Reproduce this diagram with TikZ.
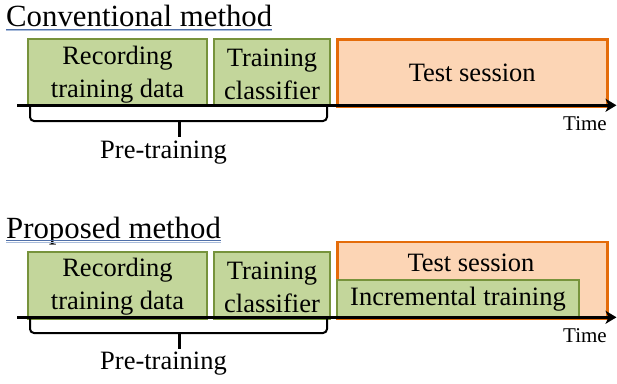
\documentclass[tikz,border=0pt]{standalone}
\usepackage{fontspec}
\setmainfont{Liberation Serif}
\usetikzlibrary{arrows.meta,calc}
\definecolor{gfill}{HTML}{C3D69B}
\definecolor{gdraw}{HTML}{77933C}
\definecolor{ofill}{HTML}{FCD5B5}
\definecolor{odraw}{HTML}{E46C0A}
\definecolor{ulblue}{HTML}{4F6FA8}
\definecolor{ulpale}{HTML}{A9BCDB}
\tikzset{
  gbox/.style={draw=gdraw, fill=gfill, line width=2pt, inner sep=0pt, anchor=north west, align=center,
    font=\fontsize{26.5}{33}\selectfont},
  obox/.style={draw=odraw, fill=ofill, line width=2.5pt, inner sep=0pt, anchor=north west, align=center,
    font=\fontsize{26.5}{33}\selectfont},
  inlbl/.style={inner sep=0pt, align=center, yshift=-2pt, font=\fontsize{26.5}{33}\selectfont},
  lbl/.style={inner sep=0pt, font=\fontsize{26.5}{33}\selectfont},
  timelbl/.style={inner sep=0pt, font=\fontsize{21}{25}\selectfont},
  ttl/.style={inner sep=0pt, anchor=base west, font=\fontsize{30.8}{36}\selectfont},
  axis/.style={line width=3pt, -{Stealth[length=11pt,width=13pt,inset=3pt]}},
  brace/.style={line width=2pt, rounded corners=4pt},
  tick/.style={line width=3pt},
  ul/.style={draw=ulblue, line width=1pt},
  ulp/.style={draw=ulpale, line width=1pt}
}
\begin{document}
\begin{tikzpicture}[x=1pt,y=-1pt]
\useasboundingbox (0,0) rectangle (617,383);

% ---------- Conventional method ----------
\node[ttl] (t1) at (6,26.7) {Conventional method};
\coordinate (u1a) at ($(t1.base west)+(0,2.6)$);
\coordinate (u1b) at ($(t1.base east)+(0,2.6)$);
\draw[ul] (u1a) -- (u1b);
\coordinate (u1c) at ($(t1.base west)+(0,3.8)$);
\coordinate (u1d) at ($(t1.base east)+(0,3.8)$);
\draw[ulp] (u1c) -- (u1d);

\node[gbox, minimum width=179pt, minimum height=67pt,
  label={[inlbl]center:Recording\\training data}] (rec1) at (27,38) {};
\node[gbox, minimum width=116pt, minimum height=67pt,
  label={[inlbl]center:Training\\classifier}] (trn1) at (213,38) {};
\node[obox, minimum width=270pt, minimum height=67pt] (test1) at (336,38) {Test session};

\coordinate (a1s) at (17,105.3);
\coordinate (a1e) at (616.5,105.3);
\draw[axis] (a1s) -- (a1e);

\coordinate (b1l) at (30,107);
\coordinate (b1r) at (327,107);
\coordinate (b1m) at (179,121);
\coordinate (b1t) at (179,137);
\draw[brace] (b1l) -- (30,121) -- (327,121) -- (b1r);
\draw[tick] (b1m) -- (b1t);
\node[lbl] (pre1) at (163.5,153) {Pre-training};
\node[timelbl] (time1) at (585,124) {Time};

% ---------- Proposed method ----------
\node[ttl] (t2) at (6,238.3) {Proposed method};
\coordinate (u2a) at ($(t2.base west)+(0,2.6)$);
\coordinate (u2b) at ($(t2.base east)+(0,2.6)$);
\draw[ul] (u2a) -- (u2b);
\coordinate (u2c) at ($(t2.base west)+(0,3.8)$);
\coordinate (u2d) at ($(t2.base east)+(0,3.8)$);
\draw[ulp] (u2c) -- (u2d);

\node[gbox, minimum width=179pt, minimum height=67pt,
  label={[inlbl]center:Recording\\training data}] (rec2) at (27,250.5) {};
\node[gbox, minimum width=116pt, minimum height=67pt,
  label={[inlbl]center:Training\\classifier}] (trn2) at (213,250.5) {};
\node[obox, minimum width=270pt, minimum height=77pt] (test2) at (336,240.5) {};
\node[lbl] (testlbl2) at (471,262.7) {Test session};
\node[gbox, minimum width=242pt, minimum height=38pt] (inc2) at (336,279.3) {Incremental training};

\coordinate (a2s) at (17,317.3);
\coordinate (a2e) at (616.5,317.3);
\draw[axis] (a2s) -- (a2e);

\coordinate (b2l) at (30,319);
\coordinate (b2r) at (327,319);
\coordinate (b2m) at (179,333);
\coordinate (b2t) at (179,349);
\draw[brace] (b2l) -- (30,333) -- (327,333) -- (b2r);
\draw[tick] (b2m) -- (b2t);
\node[lbl] (pre2) at (163.5,364) {Pre-training};
\node[timelbl] (time2) at (585,336) {Time};
\end{tikzpicture}
\end{document}
